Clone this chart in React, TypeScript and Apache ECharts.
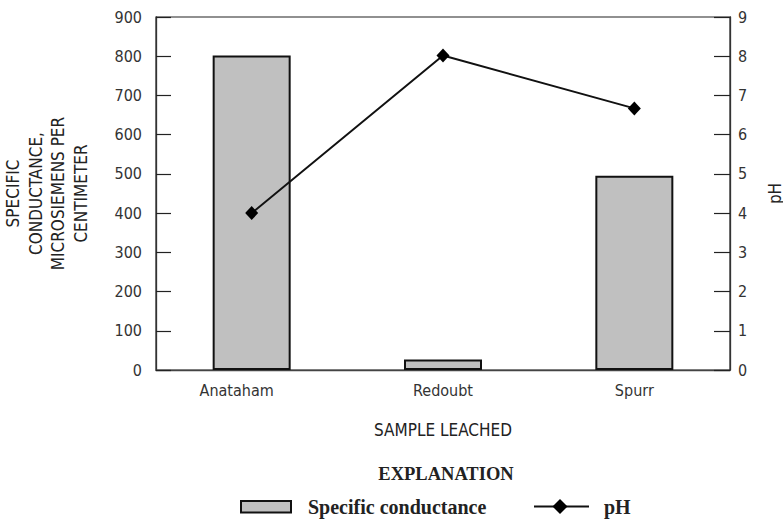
import React, { useEffect, useRef } from "react";
import * as echarts from "echarts";

const categories = ["Anataham", "Redoubt", "Spurr"];
const conductance = [802, 27, 495];
const ph = [4.0, 8.02, 6.67];
const leftTicks = { min: 0, max: 900, interval: 100 };
const rightTicks = { min: 0, max: 9, interval: 1 };

const SANS = "'Liberation Sans Narrow', 'Arial Narrow', 'DejaVu Sans Condensed', sans-serif";
const SERIF = "'Liberation Serif', 'DejaVu Serif', serif";

export default function App() {
  const ref = useRef<HTMLDivElement>(null);
  useEffect(() => {
    document.body.style.margin = "0";
    const chart = echarts.init(ref.current!, null, { renderer: "svg" });
    chart.setOption({
      animation: false,
      backgroundColor: "#fff",
      grid: {
        left: 156,
        right: 53,
        top: 17,
        bottom: 150,
        containLabel: false,
        outerBoundsMode: "none",
        show: true,
        borderColor: "#222",
        borderWidth: 1.2,
      },
      xAxis: {
        type: "category",
        data: categories,
        boundaryGap: true,
        name: "SAMPLE LEACHED",
        nameLocation: "middle",
        nameGap: 51,
        nameTextStyle: { fontFamily: SANS, fontSize: 17, color: "#222" },
        axisLine: { lineStyle: { color: "#444", width: 1.3 } },
        axisTick: { inside: true, length: 10, lineStyle: { color: "#999", width: 1 } },
        axisLabel: {
          margin: 12,
          fontFamily: SANS,
          fontSize: 16,
          color: "#333",
          formatter: (v: string) => (v === "Anataham" ? "{a|" + v + "}" : v),
          rich: {
            a: { fontFamily: SANS, fontSize: 16, color: "#333", padding: [0, 30, 0, 0] },
          },
        },
      },
      yAxis: [
        {
          type: "value",
          ...leftTicks,
          position: "left",
          name: "SPECIFIC\nCONDUCTANCE,\nMICROSIEMENS PER\nCENTIMETER",
          nameLocation: "middle",
          nameRotate: 90,
          nameGap: 64,
          nameTextStyle: { fontFamily: SANS, fontSize: 17, color: "#222", lineHeight: 22.5 },
          axisLine: { show: true, lineStyle: { color: "#333", width: 1.3 } },
          axisTick: { show: true, inside: true, length: 15, lineStyle: { color: "#222", width: 1.2 } },
          axisLabel: { margin: 14, fontFamily: SANS, fontSize: 16, color: "#333" },
          splitLine: { show: false },
        },
        {
          type: "value",
          ...rightTicks,
          position: "right",
          name: "pH",
          nameLocation: "middle",
          nameRotate: 90,
          nameGap: 36,
          nameTextStyle: { fontFamily: SANS, fontSize: 17, color: "#222" },
          axisLine: { show: true, lineStyle: { color: "#333", width: 1.3 } },
          axisTick: { show: true, inside: true, length: 16, lineStyle: { color: "#222", width: 1.2 } },
          axisLabel: { margin: 8, fontFamily: SANS, fontSize: 16, color: "#333" },
          splitLine: { show: false },
        },
      ],
      series: [
        {
          name: "Specific conductance",
          type: "bar",
          yAxisIndex: 0,
          data: conductance,
          barWidth: 78,
          itemStyle: { color: "#c0c0c0", borderColor: "#111", borderWidth: 2 },
        },
        {
          name: "pH",
          type: "line",
          yAxisIndex: 1,
          data: ph,
          symbol: "diamond",
          symbolSize: [13, 14],
          lineStyle: { color: "#111", width: 2 },
          itemStyle: { color: "#000" },
          z: 5,
        },
      ],
      graphic: [
        {
          type: "text",
          x: 446,
          y: 474,
          style: {
            text: "EXPLANATION",
            font: "bold 18.5px " + SERIF,
            fill: "#222",
            textAlign: "center",
            textVerticalAlign: "middle",
          },
        },
        {
          type: "rect",
          shape: { x: 241, y: 501, width: 50, height: 11.5 },
          style: { fill: "#c0c0c0", stroke: "#111", lineWidth: 2 },
        },
        {
          type: "text",
          x: 308,
          y: 507,
          style: {
            text: "Specific conductance",
            font: "bold 20px " + SERIF,
            fill: "#222",
            textAlign: "left",
            textVerticalAlign: "middle",
          },
        },
        {
          type: "line",
          shape: { x1: 534, y1: 506.5, x2: 589, y2: 506.5 },
          style: { stroke: "#111", lineWidth: 2 },
        },
        {
          type: "polygon",
          shape: { points: [[560, 499], [567.5, 506.5], [560, 514], [552.5, 506.5]] },
          style: { fill: "#000" },
        },
        {
          type: "text",
          x: 604,
          y: 507,
          style: {
            text: "pH",
            font: "bold 20px " + SERIF,
            fill: "#222",
            textAlign: "left",
            textVerticalAlign: "middle",
          },
        },
      ],
    });
    return () => chart.dispose();
  }, []);
  return <div ref={ref} style={{ width: 783, height: 520 }} />;
}
